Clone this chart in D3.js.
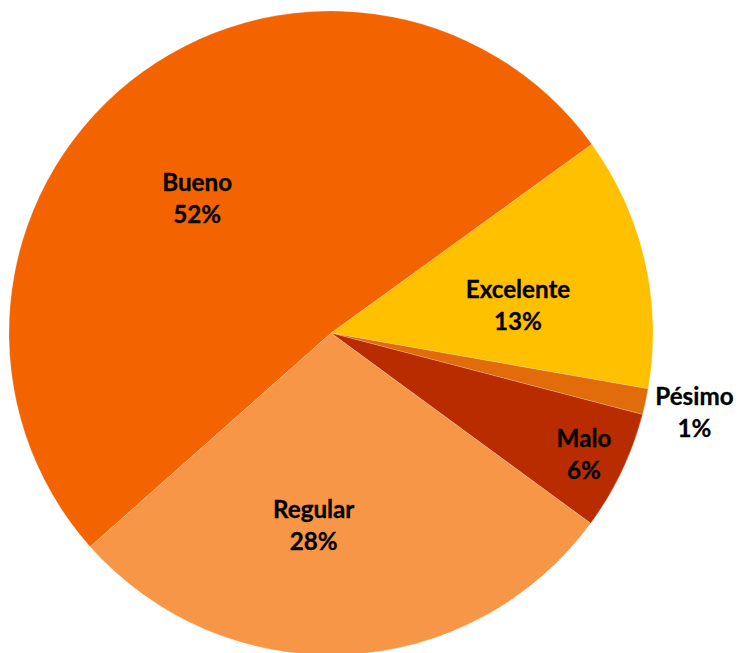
<!DOCTYPE html>
<html>
<head>
<meta charset="utf-8">
<script src="https://cdn.jsdelivr.net/npm/d3@7"></script>
<style>
  html, body { margin: 0; padding: 0; background: #ffffff; }
  svg { display: block; }
</style>
</head>
<body>
<svg id="chart" width="739" height="653"></svg>
<script>
// Data (clockwise order, starting at the Bueno/Excelente boundary)
const categories = ["Excelente", "Pésimo", "Malo", "Regular", "Bueno"];
const values = [12.75, 1.3, 6.0, 28.4, 51.6];
const colors = ["#FFC000", "#E36C0A", "#B92C00", "#F79646", "#F36400"];

// Layout (not data)
const width = 739, height = 653;
const cx = 331, cy = 333, R = 322;
const startDeg = 54.1;
const labelLayout = {
  "Excelente": { r: 0.58, dx: 5,   dy: 7 },
  "Pésimo":    { r: 1.133, dx: 7,  dy: -6 },
  "Malo":      { r: 0.87, dx: 0,   dy: -6 },
  "Regular":   { r: 0.58, dx: -26, dy: -2 },
  "Bueno":     { r: 0.58, dx: -17, dy: 4 }
};
const lineGap = 32;

const svg = d3.select("#chart");
const g = svg.append("g").attr("transform", `translate(${cx},${cy})`);

const total = d3.sum(values);
const data = categories.map((c, i) => ({ name: c, value: values[i], color: colors[i] }));

const start = startDeg * Math.PI / 180;
const pie = d3.pie().sort(null).value(d => d.value)
  .startAngle(start).endAngle(start + 2 * Math.PI);
const arcs = pie(data);

const arc = d3.arc().innerRadius(0).outerRadius(R);

g.selectAll("path.slice")
  .data(arcs)
  .enter().append("path")
  .attr("class", "slice")
  .attr("d", arc)
  .attr("fill", d => d.data.color)
  .attr("stroke", "#ffffff")
  .attr("stroke-width", 0.4)
  .attr("stroke-opacity", 0.5);

const labels = g.selectAll("text.lbl")
  .data(arcs)
  .enter().append("text")
  .attr("class", "lbl")
  .attr("text-anchor", "middle")
  .attr("font-family", "Lato, 'Open Sans', sans-serif")
  .attr("font-weight", 700)
  .attr("font-size", "24.2px")
  .attr("fill", "#000000")
  .attr("stroke", "#000000")
  .attr("stroke-width", 0.3)
  .attr("transform", d => {
    const L = labelLayout[d.data.name];
    const a = (d.startAngle + d.endAngle) / 2;
    const r = R * L.r;
    const x = Math.sin(a) * r + L.dx;
    const y = -Math.cos(a) * r + L.dy;
    return `translate(${x},${y})`;
  });

labels.append("tspan")
  .attr("x", 0).attr("y", 0)
  .text(d => d.data.name);
labels.append("tspan")
  .attr("x", 0).attr("y", lineGap)
  .text(d => Math.round(d.data.value / total * 100) + "%");
</script>
</body>
</html>
